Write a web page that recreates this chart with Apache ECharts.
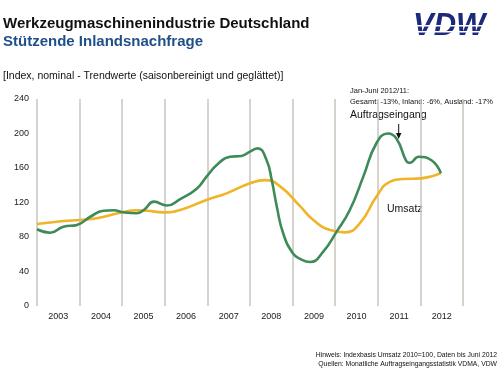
<!DOCTYPE html>
<html>
<head>
<meta charset="utf-8">
<script src="https://cdn.jsdelivr.net/npm/echarts@6/dist/echarts.min.js"></script>
<style>
html,body{margin:0;padding:0;background:#fff;}
#chart{width:500px;height:370px;}
</style>
</head>
<body>
<div id="chart"></div>
<script>
// Year category labels
var years = ['2003','2004','2005','2006','2007','2008','2009','2010','2011','2012'];
var yTicks = [0, 40, 80, 120, 160, 200, 240];

// Auftragseingang (green) — time in decimal years, index values
var auftragTime = [2003.00,2003.31,2003.62,2003.94,2004.25,2004.56,2004.80,2005.03,2005.34,2005.50,2005.75,2006.05,2006.36,2006.75,2006.98,2007.22,2007.53,2007.80,2008.00,2008.18,2008.39,2008.51,2008.63,2008.78,2009.01,2009.20,2009.41,2009.72,2010.03,2010.34,2010.66,2010.97,2011.24,2011.44,2011.67,2011.75,2011.96,2012.26,2012.48];
var auftragValues = [89,85,92,94,103.5,110.5,111,108.6,107.5,111,121,116.5,124,136,150,163.5,173,174,179,182.8,169,146,115,84,61,54,51,63,86,111,150,189,200,194,168,166,173,169,154];

// Umsatz (yellow)
var umsatzTime = [2003.00,2003.62,2004.00,2004.40,2004.95,2005.34,2005.58,2005.97,2006.36,2006.98,2007.45,2008.00,2008.35,2008.70,2009.17,2009.48,2009.88,2010.23,2010.58,2010.97,2011.28,2011.59,2012.02,2012.48];
var umsatzValues = [95,98.5,99.7,101.7,108,111,110.5,108.6,111.3,123,130.6,142.3,146,139,116,100,88,85.4,96,127,144,147.2,148,154];

function zip(t, v){ return t.map(function(x,i){ return [x, v[i]]; }); }

var FONT = 'Liberation Sans, Arial, sans-serif';
var chart = echarts.init(document.getElementById('chart'), null, {renderer:'canvas'});
chart.setOption({
  animation:false,
  backgroundColor:'#ffffff',
  textStyle:{fontFamily:FONT},
  grid:{left:37,right:37,top:99,bottom:64},
  xAxis:[{
    type:'category', data:years, boundaryGap:true,
    axisLine:{show:false}, axisTick:{show:false},
    axisLabel:{fontSize:9, color:'#1a1a1a', margin:6, fontFamily:FONT},
    splitLine:{show:true, lineStyle:{color:'#c9c5bd', width:1.5}}
  },{
    type:'value', min:2003, max:2013, show:false
  }],
  yAxis:{
    type:'value', min:yTicks[0], max:yTicks[yTicks.length-1], interval:40,
    axisLine:{show:false}, axisTick:{show:false}, splitLine:{show:false},
    axisLabel:{fontSize:9, color:'#1a1a1a', margin:8, fontFamily:FONT}
  },
  series:[{
    name:'Umsatz', type:'line', xAxisIndex:1, smooth:0.5, symbol:'none',
    data:zip(umsatzTime, umsatzValues),
    lineStyle:{color:'#f0b428', width:2.6}, z:2
  },{
    name:'Auftragseingang', type:'line', xAxisIndex:1, smooth:0.5, symbol:'none',
    data:zip(auftragTime, auftragValues),
    lineStyle:{color:'#3e8a58', width:2.6}, z:3
  }],
  graphic:[
    {type:'text', left:3, top:16, style:{text:'Werkzeugmaschinenindustrie Deutschland', font:'bold 15px '+FONT, fill:'#111'}},
    {type:'text', left:3, top:34, style:{text:'Stützende Inlandsnachfrage', font:'bold 15px '+FONT, fill:'#1f4f8a'}},
    {type:'text', left:3, top:71, style:{text:'[Index, nominal - Trendwerte (saisonbereinigt und geglättet)]', font:'10.5px '+FONT, fill:'#111'}},
    {type:'text', left:413, top:11, style:{text:'VDW', font:'italic 900 31px '+FONT, fill:'#1b2a7a'}},
    {type:'rect', shape:{x:410, y:25, width:85, height:1.4}, style:{fill:'#ffffff'}},
    {type:'rect', shape:{x:410, y:31, width:85, height:1.4}, style:{fill:'#ffffff'}},
    {type:'text', left:350, top:87, style:{text:'Jan-Juni 2012/11:', font:'7.5px '+FONT, fill:'#111'}},
    {type:'text', left:350, top:98, style:{text:'Gesamt: -13%, Inland: -6%, Ausland: -17%', font:'7.5px '+FONT, fill:'#111'}},
    {type:'text', left:350, top:110, style:{text:'Auftragseingang', font:'10.5px '+FONT, fill:'#111'}},
    {type:'line', shape:{x1:398.7, y1:124, x2:398.7, y2:136}, style:{stroke:'#111', lineWidth:1}},
    {type:'polygon', shape:{points:[[396,133],[401.4,133],[398.7,139]]}, style:{fill:'#111'}},
    {type:'text', left:387, top:204, style:{text:'Umsatz', font:'10.5px '+FONT, fill:'#111'}},
    {type:'text', right:3, top:352, style:{text:'Hinweis: Indexbasis Umsatz 2010=100, Daten bis Juni 2012', font:'6.8px '+FONT, fill:'#111', align:'right'}},
    {type:'text', right:3, top:361, style:{text:'Quellen: Monatliche Auftragseingangsstatistik VDMA, VDW', font:'6.8px '+FONT, fill:'#111', align:'right'}}
  ]
});
</script>
</body>
</html>
